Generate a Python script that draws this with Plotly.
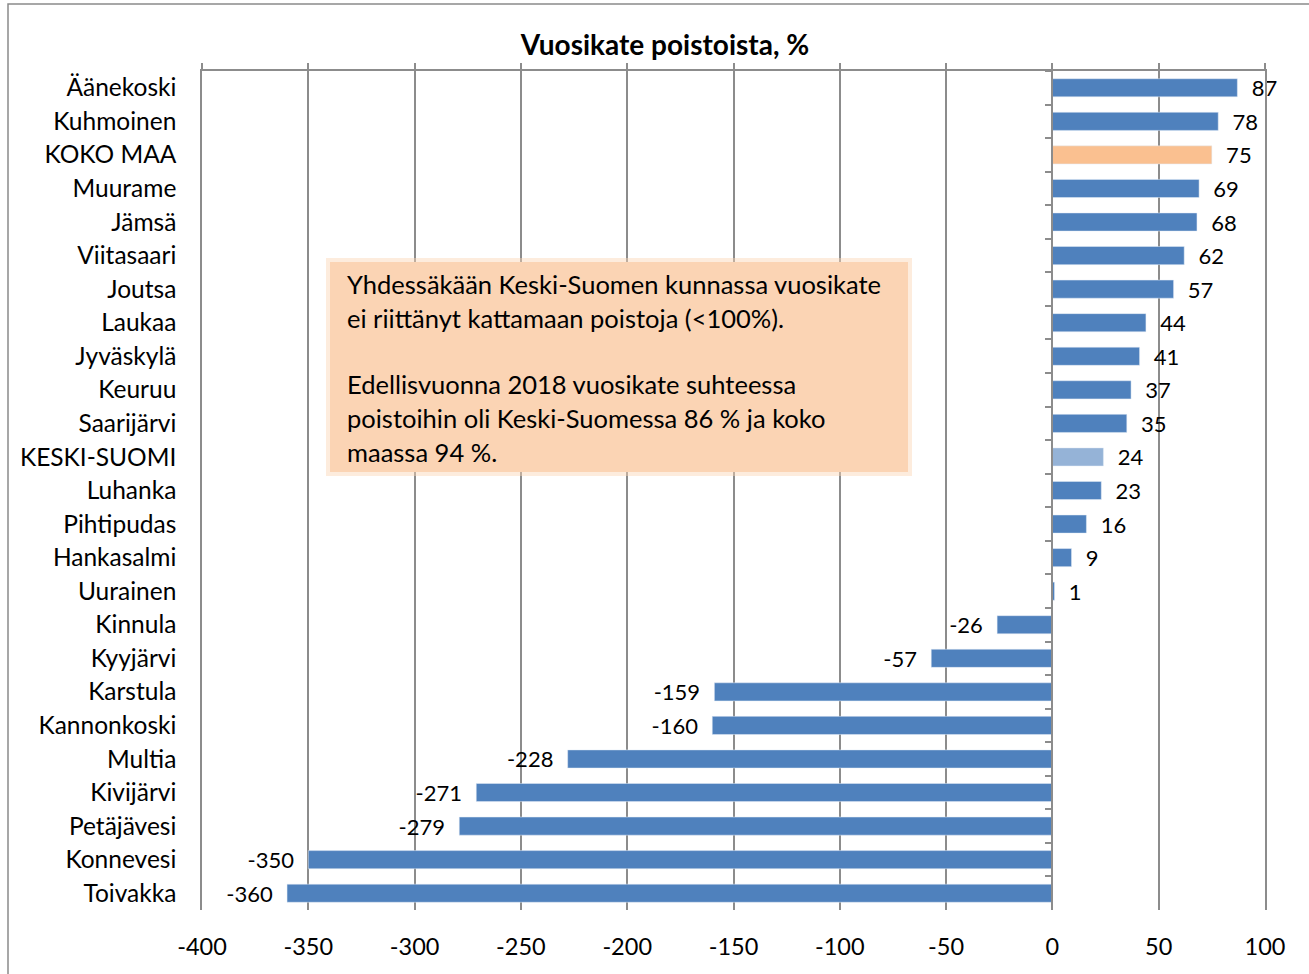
import plotly.graph_objects as go

categories = ["Äänekoski", "Kuhmoinen", "KOKO MAA", "Muurame", "Jämsä", "Viitasaari",
              "Joutsa", "Laukaa", "Jyväskylä", "Keuruu", "Saarijärvi", "KESKI-SUOMI",
              "Luhanka", "Pihtipudas", "Hankasalmi", "Uurainen", "Kinnula", "Kyyjärvi",
              "Karstula", "Kannonkoski", "Multia", "Kivijärvi", "Petäjävesi", "Konnevesi",
              "Toivakka"]
values = [87, 78, 75, 69, 68, 62, 57, 44, 41, 37, 35, 24, 23, 16, 9, 1,
          -26, -57, -159, -160, -228, -271, -279, -350, -360]
x_ticks = [-400, -350, -300, -250, -200, -150, -100, -50, 0, 50, 100]
title_text = "Vuosikate poistoista, %"
note_lines = ["Yhdessäkään Keski-Suomen kunnassa vuosikate",
              "ei riittänyt kattamaan poistoja (<100%).",
              "Edellisvuonna 2018 vuosikate suhteessa",
              "poistoihin oli Keski-Suomessa 86 % ja koko",
              "maassa 94 %."]

BLUE = "#4F81BD"
colors = []
for c in categories:
    if c == "KOKO MAA":
        colors.append("#FAC090")
    elif c == "KESKI-SUOMI":
        colors.append("#95B3D7")
    else:
        colors.append(BLUE)

NB = "\u00a0"
labels = [(NB * 2 + str(v)) if v >= 0 else (str(v) + NB * 2) for v in values]

FONT = "Lato"
GRID = "#8C8C8C"

fig = go.Figure()
fig.add_trace(go.Bar(
    x=values, y=categories, orientation="h",
    marker=dict(color=colors, line=dict(width=0)),
    text=labels, textposition="outside", constraintext="none", cliponaxis=False,
    textfont=dict(family=FONT, size=22, color="#000000"),
    xaxis="x", yaxis="y", showlegend=False, hoverinfo="x+y",
))
# invisible companion trace to carry the zero-position category axis
fig.add_trace(go.Bar(
    x=values, y=categories, orientation="h",
    marker=dict(color="rgba(0,0,0,0)"),
    xaxis="x2", yaxis="y2", showlegend=False, hoverinfo="skip",
))

W, H = 1309, 974
L, R, T, B = 202, 44, 71, 64
pw = W - L - R
ph = H - T - B

def px_x(p):
    return (p - L) / pw

def px_y(p):
    return (H - B - p) / ph

fig.update_layout(
    width=W, height=H,
    margin=dict(l=L, r=R, t=T, b=B, autoexpand=False),
    paper_bgcolor="white", plot_bgcolor="white",
    bargap=0.46,
    font=dict(family=FONT, size=22, color="#000000"),
    title=dict(text="<b>" + title_text + "</b>", x=665 / W, xanchor="center",
               xref="container", y=1 - 45 / H, yanchor="middle",
               font=dict(family=FONT, size=28, color="#000000")),
    xaxis=dict(range=[-400, 100], side="top", anchor="y", tickvals=x_ticks,
               showgrid=True, gridcolor=GRID, gridwidth=1.5,
               showline=True, linecolor=GRID, linewidth=1.5,
               ticks="outside", ticklen=6, tickcolor=GRID, tickwidth=1.5,
               showticklabels=False, zeroline=False),
    xaxis2=dict(range=[-400, 100], overlaying="x", side="bottom", anchor="y",
                tickvals=x_ticks, ticktext=[str(t) for t in x_ticks],
                showgrid=False, zeroline=False, showline=False, ticks="",
                ticklabelstandoff=20,
                tickfont=dict(family=FONT, size=23.5, color="#000000")),
    yaxis=dict(type="category", categoryorder="array", categoryarray=categories,
               autorange="reversed", showgrid=False, zeroline=False,
               showline=True, mirror=True, linecolor=GRID, linewidth=1.5,
               ticks="", ticklabelstandoff=19,
               tickfont=dict(family=FONT, size=24.5, color="#000000")),
    yaxis2=dict(type="category", categoryorder="array", categoryarray=categories,
                autorange="reversed", overlaying="y", anchor="free",
                position=(0 - (-400)) / 500, side="left",
                showgrid=False, zeroline=False, showticklabels=False,
                showline=True, linecolor=GRID, linewidth=1.5,
                ticks="outside", ticklen=7, tickcolor=GRID, tickwidth=1.5,
                tickson="boundaries"),
)

shapes = []
# outer chart border
shapes.append(dict(type="rect", xref="paper", yref="paper",
                   x0=px_x(8), x1=px_x(1330), y0=px_y(1000), y1=px_y(4),
                   line=dict(color="#8A8A8A", width=1.5), fillcolor="rgba(0,0,0,0)",
                   layer="above"))
# note box glow + box
shapes.append(dict(type="rect", xref="paper", yref="paper",
                   x0=px_x(326), x1=px_x(912), y0=px_y(476), y1=px_y(258),
                   line=dict(width=0), fillcolor="rgba(251,212,180,0.45)", layer="above"))
shapes.append(dict(type="rect", xref="paper", yref="paper",
                   x0=px_x(330), x1=px_x(908), y0=px_y(472), y1=px_y(262),
                   line=dict(width=0), fillcolor="#FBD4B4", layer="above"))
fig.update_layout(shapes=shapes)

line_y = [284, 318, 384, 418, 452]
for txt, yy in zip(note_lines, line_y):
    fig.add_annotation(text=txt, xref="paper", yref="paper", x=px_x(345), y=px_y(yy),
                       xanchor="left", yanchor="middle", showarrow=False, align="left",
                       font=dict(family=FONT, size=25.5, color="#000000"))

fig.write_html("out.html", config={"displayModeBar": False},
               post_script="document.body.style.margin='0px';document.body.style.overflow='hidden';")
